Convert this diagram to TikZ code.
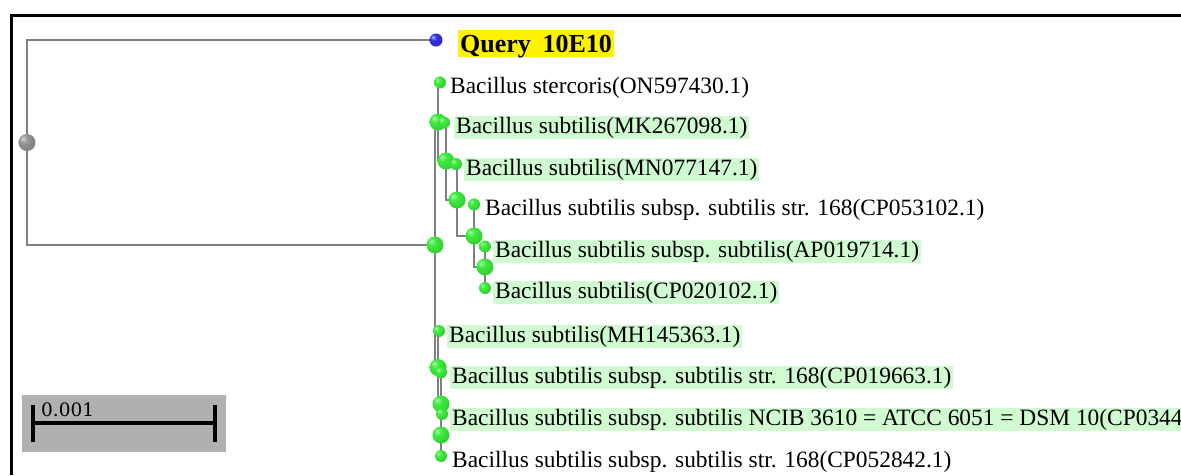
\documentclass[tikz,border=0pt]{standalone}
\usepackage{fontspec}
\setmainfont{Liberation Serif}
\newfontfamily\barfont{DejaVu Serif}
\usetikzlibrary{backgrounds}
\definecolor{edgegray}{RGB}{128,128,128}
\definecolor{ballgreen}{RGB}{60,235,60}
\definecolor{ballblue}{RGB}{50,50,230}
\definecolor{ballgray}{RGB}{150,150,150}
\definecolor{hlgreen}{RGB}{208,250,208}
\definecolor{bargray}{RGB}{176,176,176}
\pgfdeclareradialshading{gball}{\pgfpoint{-12bp}{12bp}}{color(0bp)=(white!55!ballgreen); color(12bp)=(ballgreen); color(30bp)=(ballgreen!88!black); color(45bp)=(ballgreen!70!black); color(70bp)=(ballgreen!55!black)}
\pgfdeclareradialshading{bball}{\pgfpoint{-12bp}{12bp}}{color(0bp)=(white!65!ballblue); color(12bp)=(ballblue); color(30bp)=(ballblue!85!black); color(45bp)=(ballblue!65!black); color(70bp)=(ballblue!50!black)}
\pgfdeclareradialshading{rball}{\pgfpoint{-12bp}{12bp}}{color(0bp)=(white!60!ballgray); color(12bp)=(ballgray); color(30bp)=(ballgray!85!black); color(45bp)=(ballgray!65!black); color(70bp)=(ballgray!50!black)}
\begin{document}
\begin{tikzpicture}[x=1pt,y=-1pt,
  edge/.style={draw=edgegray,line width=2pt},
  leafball/.style={circle,inner sep=0pt,minimum size=12pt,shading=gball},
  innerball/.style={circle,inner sep=0pt,minimum size=17pt,shading=gball},
  rootball/.style={circle,inner sep=0pt,minimum size=17pt,shading=rball},
  queryball/.style={circle,inner sep=0pt,minimum size=13pt,shading=bball},
  lbl/.style={anchor=base west,inner xsep=2pt,inner ysep=0pt,text height=17pt,text depth=6pt,font=\fontsize{23.4}{28}\selectfont},
  hl/.style={lbl,fill=hlgreen},
]
\clip (0,0) rectangle (1181,475);

% internal nodes
\node[rootball] (R) at (27,142.5) {};
\node[innerball] (A) at (435,245) {};
\node[innerball] (B) at (438,122) {};
\node[innerball] (B2) at (446,161) {};
\node[innerball] (B3) at (457,200) {};
\node[innerball] (B4) at (474,236) {};
\node[innerball] (B5) at (485,267) {};
\node[innerball] (C) at (438,367.5) {};
\node[innerball] (D) at (441,404) {};
\node[innerball] (E) at (441,435) {};

% leaves
\node[queryball] (Q) at (436,40) {};
\node[leafball] (L1) at (440,82.5) {};
\node[leafball] (L2) at (444,122.5) {};
\node[leafball] (L3) at (456,164) {};
\node[leafball] (L4) at (474,204.5) {};
\node[leafball] (L5) at (485,246.5) {};
\node[leafball] (L6) at (485,288) {};
\node[leafball] (L7) at (439,331) {};
\node[leafball] (L8) at (441,372.5) {};
\node[leafball] (L9) at (442,414) {};
\node[leafball] (L10) at (441,456) {};

\begin{pgfonlayer}{background}
\fill[white] (0,0) rectangle (1181,475);
\draw[line width=3pt] (11,475) -- (11,15) -- (1181,15);
\draw[edge] (R.center) |- (Q.center);
\draw[edge] (R.center) |- (A.center);
\draw[edge] (A.center) |- (B.center);
\draw[edge] (A.center) |- (C.center);
\draw[edge] (B.center) |- (L1.center);
\draw[edge] (B.center) |- (B2.center);
\draw[edge] (B2.center) |- (L2.center);
\draw[edge] (B2.center) |- (B3.center);
\draw[edge] (B3.center) |- (L3.center);
\draw[edge] (B3.center) |- (B4.center);
\draw[edge] (B4.center) |- (L4.center);
\draw[edge] (B4.center) |- (B5.center);
\draw[edge] (B5.center) |- (L5.center);
\draw[edge] (B5.center) |- (L6.center);
\draw[edge] (C.center) |- (L7.center);
\draw[edge] (C.center) |- (D.center);
\draw[edge] (D.center) |- (L8.center);
\draw[edge] (D.center) |- (E.center);
\draw[edge] (E.center) |- (L9.center);
\draw[edge] (E.center) |- (L10.center);
\end{pgfonlayer}

% labels
\node[anchor=base west,fill=yellow,inner xsep=2pt,inner ysep=0pt,text height=22pt,text depth=5pt,font=\bfseries\fontsize{26}{30}\selectfont] (T0) at (458,52) {Query\hspace{0.2em} 10E10};
\node[lbl] (T1) at (448,93) {Bacillus stercoris(ON597430.1)};
\node[hl] (T2) at (454,133) {Bacillus subtilis(MK267098.1)};
\node[hl] (T3) at (464,175) {Bacillus subtilis(MN077147.1)};
\node[lbl] (T4) at (483,215) {Bacillus subtilis subsp. subtilis str. 168(CP053102.1)};
\node[hl] (T5) at (493,257) {Bacillus subtilis subsp. subtilis(AP019714.1)};
\node[hl] (T6) at (493,298) {Bacillus subtilis(CP020102.1)};
\node[hl] (T7) at (447,342) {Bacillus subtilis(MH145363.1)};
\node[hl] (T8) at (450,383) {Bacillus subtilis subsp. subtilis str. 168(CP019663.1)};
\node[hl] (T9) at (450,425) {Bacillus subtilis subsp. subtilis NCIB 3610 = ATCC 6051 = DSM 10(CP0344};
\node[lbl] (T10) at (450,467) {Bacillus subtilis subsp. subtilis str. 168(CP052842.1)};

% scale bar
\node[fill=bargray,minimum width=204pt,minimum height=57pt,anchor=north west,inner sep=0pt] (SB) at (22,395) {};
\draw[line width=3.5pt] (33,423) -- (215,423);
\draw[line width=3.5pt] (33,405) -- (33,442);
\draw[line width=3.5pt] (215,405) -- (215,442);
\node[anchor=base west,inner sep=0pt,font=\barfont\fontsize{18.5}{22}\selectfont] (SL) at (41,416) {0.001};
\end{tikzpicture}
\end{document}
